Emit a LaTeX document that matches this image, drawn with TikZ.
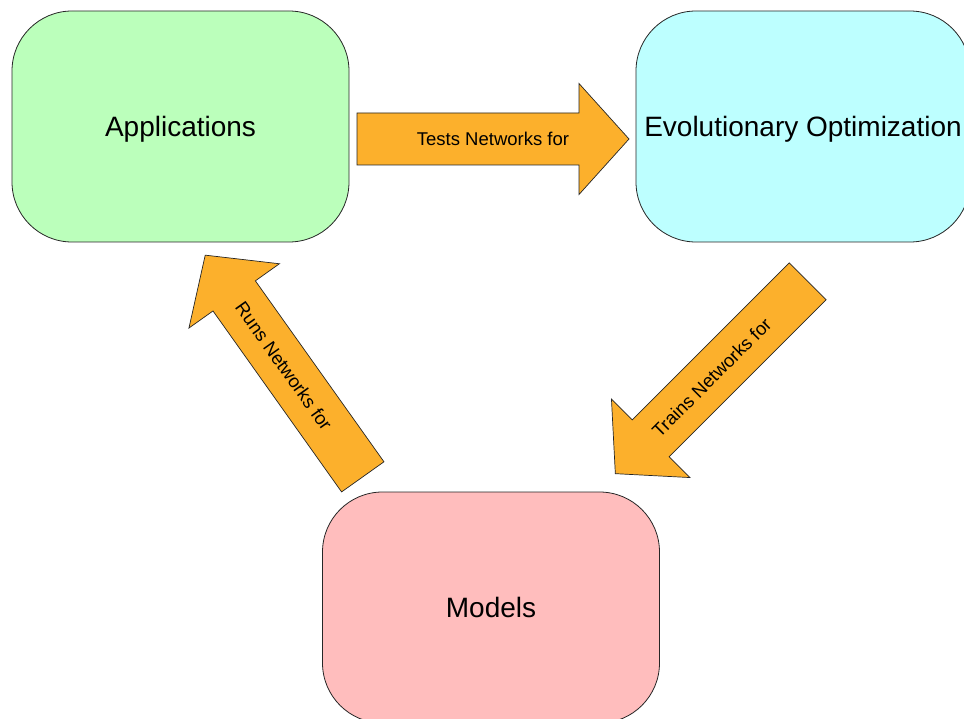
\documentclass[tikz,border=0pt]{standalone}
\usepackage{fontspec}
\setmainfont{Liberation Sans}
\definecolor{appgreen}{RGB}{187,255,187}
\definecolor{evocyan}{RGB}{189,255,255}
\definecolor{modpink}{RGB}{255,189,189}
\definecolor{flow}{RGB}{252,176,44}
\tikzset{
  stage/.style={draw=black!85, line width=0.8pt, rounded corners=60pt,
    minimum width=#1, minimum height=231pt, inner sep=0pt, text depth=0pt,
    font=\fontsize{28}{34}\selectfont},
  stage/.default=337pt,
  blockarrow/.style={draw=black!85, line width=0.7pt, fill=flow, line join=miter},
  flowlabel/.style={inner sep=0pt, text depth=0pt, font=\fontsize{18.5}{22}\selectfont}
}
\begin{document}
\begin{tikzpicture}[x=1pt,y=1pt]
  \useasboundingbox (0,0) rectangle (964,-719);
  \clip (0,0) rectangle (964,-719);

  % the three stages
  \node[stage, fill=appgreen] (apps) at (180.5,-126.5) {Applications};
  \node[stage=334pt, fill=evocyan] (evo) at (803,-126.5) {Evolutionary Optimization};
  \node[stage, fill=modpink] (models) at (491,-607.5) {Models};

  % block arrows: length 272, shaft 52, head 111 wide and 50 long
  \def\flowshape{(-136,-26) -- (86,-26) -- (86,-55.5) -- (136,0) -- (86,55.5) -- (86,26) -- (-136,26) -- cycle}

  % Applications -> Evolutionary Optimization
  \begin{scope}[shift={(493,-139)}]
    \draw[blockarrow] \flowshape;
    \node[flowlabel] (tests) at (0,0) {Tests Networks for};
  \end{scope}

  % Evolutionary Optimization -> Models
  \begin{scope}[shift={(711.5,-377.5)}, rotate=225]
    \draw[blockarrow] \flowshape;
    \node[flowlabel, rotate=45] (trains) at (0,0) {Trains Networks for};
  \end{scope}

  % Models -> Applications
  \begin{scope}[shift={(284,-366)}, rotate=125.4]
    \draw[blockarrow] \flowshape;
    \node[flowlabel, rotate=-54.6] (runs) at (0,0) {Runs Networks for};
  \end{scope}
\end{tikzpicture}
\end{document}
